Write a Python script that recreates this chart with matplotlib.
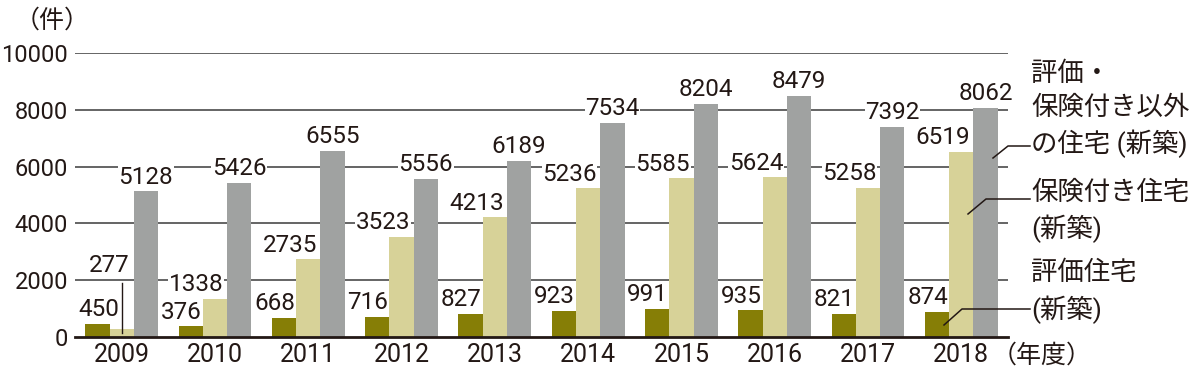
import numpy as np
import matplotlib.pyplot as plt

years = ['2009', '2010', '2011', '2012', '2013', '2014', '2015', '2016', '2017', '2018']
hyouka = [450, 376, 668, 716, 827, 923, 991, 935, 821, 874]
hoken = [277, 1338, 2735, 3523, 4213, 5236, 5585, 5624, 5258, 6519]
igai = [5128, 5426, 6555, 5556, 6189, 7534, 8204, 8479, 7392, 8062]

c_olive = '#867e06'
c_khaki = '#d7d298'
c_gray = '#a0a2a1'
c_text = '#231815'

plt.rcParams['font.family'] = ['Roboto', 'Noto Sans CJK JP', 'DejaVu Sans']

fig = plt.figure(figsize=(12, 3.72), dpi=100)
ax = fig.add_axes([0.0625, 0.094, 0.7775, 0.7635])

x = np.arange(len(years))
w = 0.26
ax.bar(x - w, hyouka, w, color=c_olive, zorder=3)
ax.bar(x, hoken, w, color=c_khaki, zorder=3)
ax.bar(x + w, igai, w, color=c_gray, zorder=3)

ax.set_xlim(-0.5, 9.5)
ax.set_ylim(0, 10000)
ax.set_yticks(range(0, 10001, 2000))
for v in range(2000, 10001, 2000):
    ax.axhline(v, color='#3a3a3a', lw=1.1, zorder=1)

for s in ['top', 'right', 'left']:
    ax.spines[s].set_visible(False)
ax.spines['bottom'].set_color(c_text)
ax.spines['bottom'].set_linewidth(2)
ax.spines['bottom'].set_zorder(5)
ax.tick_params(length=0, colors=c_text)
ax.tick_params(axis='y', pad=5, labelsize=17)
ax.tick_params(axis='x', pad=4, labelsize=18)
ax.set_xticks(x)
ax.set_xticklabels(years)

bb = dict(facecolor='white', edgecolor='none', pad=0.3)
fs = 17.5
for i in range(len(years)):
    dx = 0.02 if i == 0 else -0.1
    ax.annotate(str(hyouka[i]), (x[i] - w + dx, hyouka[i]), xytext=(0, 2), textcoords='offset points',
                ha='center', va='bottom', fontsize=fs, color=c_text, bbox=bb, zorder=4)
    if i == 0:
        ax.text(x[i] - 0.13, 2100, str(hoken[i]), ha='center', va='bottom', fontsize=fs,
                color=c_text, bbox=bb, zorder=4)
        ax.plot([x[i], x[i]], [1900, 150], color=c_text, lw=1, zorder=4)
    else:
        ax.annotate(str(hoken[i]), (x[i] - 0.2, hoken[i]), xytext=(0, 2), textcoords='offset points',
                    ha='center', va='bottom', fontsize=fs, color=c_text, bbox=bb, zorder=4)
    ax.annotate(str(igai[i]), (x[i] + w, igai[i]), xytext=(0, 2), textcoords='offset points',
                ha='center', va='bottom', fontsize=fs, color=c_text, bbox=bb, zorder=4)

# unit labels
fig.text(0.012, 0.945, '（件）', fontsize=18, color=c_text, va='center', ha='left')
fig.text(0.826, 0.045, '（年度）', fontsize=18, color=c_text, va='center', ha='left')

# legend callouts
def px(xp, yp):
    return xp / 1200, 1 - yp / 372

tk = dict(fontsize=19, color=c_text, ha='left', va='center', linespacing=1.45)
fig.text(*px(1031, 110), '評価・\n保険付き以外\nの住宅 (新築)', **tk)
fig.text(*px(1031, 212), '保険付き住宅\n(新築)', **tk)
fig.text(*px(1031, 292), '評価住宅\n(新築)', **tk)

for pts in [[(993, 158), (1008, 146), (1030, 146)],
            [(968, 214), (986, 199), (1030, 199)],
            [(944, 325), (962, 309), (1030, 309)]]:
    xs = [p[0] / 1200 for p in pts]
    ys = [1 - p[1] / 372 for p in pts]
    fig.add_artist(plt.Line2D(xs, ys, color=c_text, lw=1.1, transform=fig.transFigure))

fig.savefig('out.png', dpi=100)
